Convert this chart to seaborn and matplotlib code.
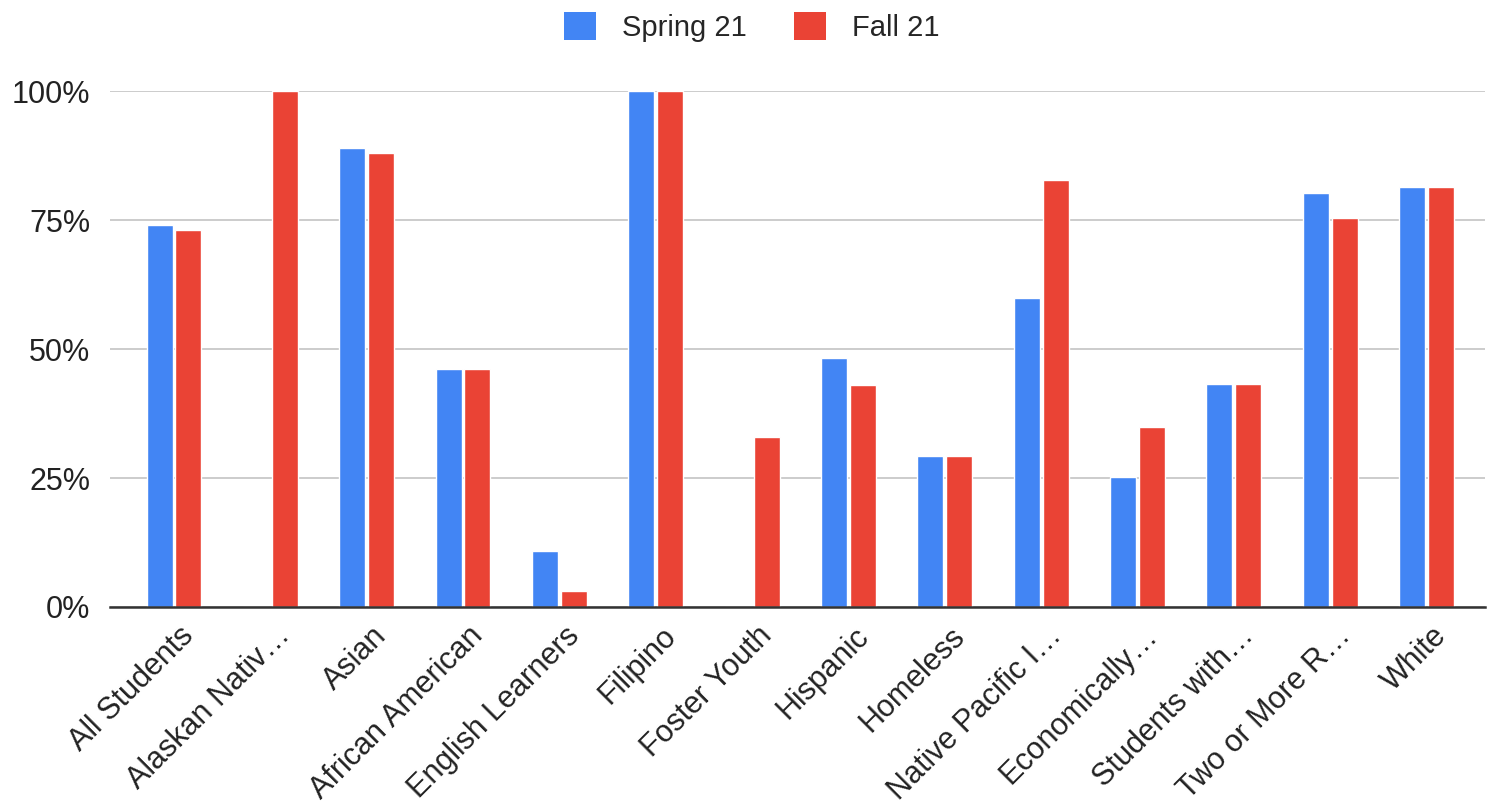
import matplotlib
matplotlib.use("Agg")
import matplotlib.pyplot as plt
import matplotlib.ticker as mticker
import matplotlib.transforms as mtransforms
from matplotlib.patches import Patch
import seaborn as sns
import pandas as pd

categories = [
    "All Students", "Alaskan Nativ\u2026", "Asian", "African American",
    "English Learners", "Filipino", "Foster Youth", "Hispanic", "Homeless",
    "Native Pacific I\u2026", "Economically\u2026", "Students with\u2026",
    "Two or More R\u2026", "White",
]
spring_21 = [0.74, 0.0, 0.89, 0.461, 0.109, 1.0, 0.0, 0.483, 0.293,
             0.599, 0.252, 0.432, 0.802, 0.814]
fall_21 = [0.731, 1.0, 0.88, 0.461, 0.031, 1.0, 0.329, 0.43, 0.293,
           0.828, 0.349, 0.432, 0.754, 0.814]
series = ["Spring 21", "Fall 21"]
colors = ["#4285F4", "#EA4335"]

df = pd.DataFrame({
    "group": categories * 2,
    "value": spring_21 + fall_21,
    "term": [series[0]] * len(categories) + [series[1]] * len(categories),
})

sns.set_theme(style="white")
plt.rcParams["font.family"] = ["Liberation Sans", "DejaVu Sans"]

fig = plt.figure(figsize=(14.89, 8.11), dpi=100)
ax = fig.add_axes([110 / 1489, (811 - 607) / 811, (1485 - 110) / 1489, (607 - 91) / 811])

sns.barplot(data=df, x="group", y="value", hue="term", palette=colors,
            hue_order=series, order=categories, width=0.60, gap=0.10,
            saturation=1, ax=ax, legend=False, zorder=3)

ax.set_ylim(0, 1.0)
ax.set_xlim(-0.664, 13.607)
ax.yaxis.set_major_locator(mticker.MultipleLocator(0.25))
ax.yaxis.set_major_formatter(mticker.PercentFormatter(1.0, decimals=0))
ax.grid(axis="y", color="#c8c8c8", linewidth=1.3, zorder=0)
ax.set_xlabel("")
ax.set_ylabel("")
for s in ["top", "right", "left"]:
    ax.spines[s].set_visible(False)
ax.spines["bottom"].set_color("#333333")
ax.spines["bottom"].set_linewidth(1.8)
ax.spines["bottom"].set_zorder(4)
ax.tick_params(axis="y", labelsize=22, colors="#222222", length=0, pad=14)
ax.tick_params(axis="x", labelsize=22, colors="#222222", length=0, pad=10)
shift = mtransforms.ScaledTranslation(5 / 100, 0, fig.dpi_scale_trans)
for lbl in ax.get_xticklabels():
    lbl.set_rotation(45)
    lbl.set_ha("right")
    lbl.set_rotation_mode("anchor")
    lbl.set_transform(lbl.get_transform() + shift)

handles = [Patch(facecolor=c, edgecolor="none") for c in colors]
fig.legend(handles, series, loc="upper center", bbox_to_anchor=(0.505, 1.018),
           ncol=2, frameon=False, fontsize=21, handlelength=1.1,
           handleheight=1.1, handletextpad=0.9, columnspacing=1.6)

fig.savefig("out.png", dpi=100, facecolor="white")
